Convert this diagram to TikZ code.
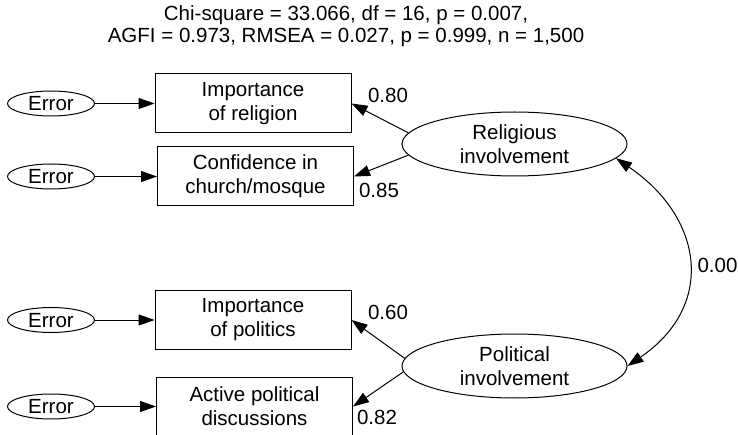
\documentclass[tikz,border=0pt]{standalone}
\usepackage{fontspec}
\setmainfont{Liberation Sans}
\usetikzlibrary{arrows.meta,shapes.geometric}

\tikzset{
	semtext/.style={font=\fontsize{20.5}{24}\selectfont},
	obsbox/.style={draw, semtext, align=center, inner sep=0pt, minimum width=196pt, minimum height=59pt},
	latent/.style={draw, ellipse, semtext, align=center, inner sep=0pt, minimum width=225pt, minimum height=64pt},
	errnode/.style={draw, ellipse, semtext, inner sep=0pt, text height=14pt, text depth=0pt, minimum width=87pt, minimum height=25pt},
	load/.style={-{Triangle[length=16pt,width=11pt]}},
	coef/.style={semtext, inner sep=0pt}
}

\newcommand{\indicator}[4]{
	\node[obsbox] (#1) at (#2,#3) {#4};
	\node[errnode] (#1err) at (51,#3) {Error};
	\draw[load] (#1err) -- (#1);
}

\begin{document}
\begin{tikzpicture}[x=1pt, y=-1pt, line width=1pt]
\useasboundingbox (0,0) rectangle (738,435);

\node[semtext, anchor=base] (chi) at (346,20.7) {Chi-square = 33.066, df = 16, p = 0.007,};
\node[semtext, anchor=base] (agfi) at (346,43) {AGFI = 0.973, RMSEA = 0.027, p = 0.999, n = 1,500};

\indicator{relimp}{253}{103.5}{Importance\\of religion}
\indicator{church}{255.5}{176.5}{Confidence in\\church/mosque}
\indicator{polimp}{253}{320}{Importance\\of politics}
\indicator{discuss}{254.5}{406.5}{Active political\\discussions}

\node[latent] (rel) at (514.5,144) {Religious\\involvement};
\node[latent] (pol) at (514.5,366) {Political\\involvement};

\draw[load] (rel.174) -- (relimp.east);
\draw[load] (rel.186) -- (church.east);
\draw[load] (pol.176) -- (polimp.east);
\draw[load] (pol.183) -- (discuss.east);

\draw[{Triangle[length=16pt,width=11pt]}-{Triangle[length=16pt,width=11pt]}]
	(rel.-8) .. controls +(88,60) and +(88,-60) .. (pol.east);

\node[coef] (l1) at (388,95.5) {0.80};
\node[coef] (l2) at (379,190) {0.85};
\node[coef] (l3) at (388,312.5) {0.60};
\node[coef] (l4) at (377,417.5) {0.82};
\node[coef] (r) at (717.5,265.5) {0.00};
\end{tikzpicture}
\end{document}
